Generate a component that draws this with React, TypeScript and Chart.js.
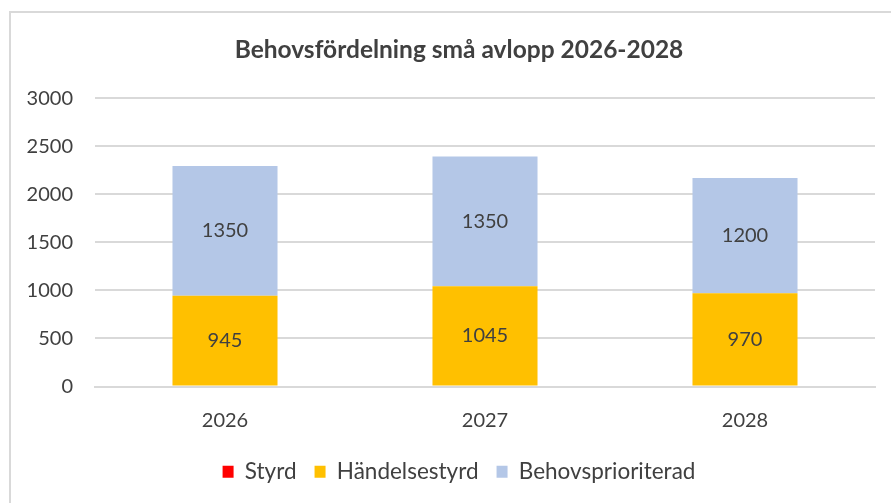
import React, { useEffect, useRef } from "react";
import { Chart, registerables } from "chart.js";

Chart.register(...registerables);

const categories = ["2026", "2027", "2028"];
const styrd = [0, 0, 0];
const handelsestyrd = [945, 1045, 970];
const behovsprioriterad = [1350, 1350, 1200];
const yTicks = [0, 500, 1000, 1500, 2000, 2500, 3000];
const titleText = "Behovsfördelning små avlopp 2026-2028";

const FONT = "Lato, 'Open Sans', sans-serif";

const labelPlugin = {
  id: "segLabels",
  afterDatasetsDraw(chart: any) {
    const ctx = chart.ctx;
    ctx.save();
    ctx.font = `20px ${FONT}`;
    ctx.fillStyle = "#404040";
    ctx.textAlign = "center";
    ctx.textBaseline = "middle";
    chart.data.datasets.forEach((ds: any, i: number) => {
      const meta = chart.getDatasetMeta(i);
      meta.data.forEach((bar: any, j: number) => {
        const v = ds.data[j];
        if (!v) return;
        const y = (bar.y + bar.base) / 2;
        ctx.fillText(String(v), bar.x, y);
      });
    });
    ctx.restore();
  },
};

export default function App() {
  const ref = useRef<HTMLCanvasElement | null>(null);
  useEffect(() => {
    if (!ref.current) return;
    const chart = new Chart(ref.current, {
      type: "bar",
      data: {
        labels: categories,
        datasets: [
          { label: "Styrd", data: styrd, backgroundColor: "#FF0000" },
          { label: "Händelsestyrd", data: handelsestyrd, backgroundColor: "#FFC000" },
          { label: "Behovsprioriterad", data: behovsprioriterad, backgroundColor: "#B4C7E7" },
        ],
      },
      options: {
        responsive: false,
        animation: false,
        layout: { padding: { left: 0, right: 0, top: 0, bottom: 10 } },
        datasets: { bar: { categoryPercentage: 1, barPercentage: 0.404 } } as any,
        plugins: {
          title: {
            display: true,
            text: titleText,
            color: "#404040",
            font: { family: FONT, size: 24.5, weight: "bold" },
            padding: { top: 35, bottom: 34 },
          },
          legend: {
            position: "bottom",
            labels: {
              color: "#404040",
              font: { family: FONT, size: 22.5 },
              boxWidth: 11,
              boxHeight: 12,
              padding: 18,
            },
          },
          tooltip: { enabled: false },
        },
        scales: {
          x: {
            stacked: true,
            grid: { display: false },
            border: { display: true, color: "#d9d9d9", width: 2 },
            ticks: { color: "#404040", font: { family: FONT, size: 20 }, padding: 14 },
            afterFit: (s: any) => { s.height = 56; },
          },
          y: {
            stacked: true,
            min: 0,
            max: 3000,
            afterBuildTicks: (s: any) => { s.ticks = yTicks.map((v) => ({ value: v })); },
            grid: { color: "#d9d9d9", lineWidth: 2, drawTicks: false },
            border: { display: false },
            ticks: {
              color: "#404040",
              font: { family: FONT, size: 20 },
              padding: 22,
              callback: (v: any) => String(v),
            },
            afterFit: (s: any) => { s.width = 95; },
          },
          yRight: {
            position: "right",
            display: true,
            min: 0,
            max: 3000,
            grid: { display: false, drawTicks: false },
            border: { display: false },
            ticks: { display: false },
            afterFit: (s: any) => { s.width = 43; },
          },
        },
      },
      plugins: [labelPlugin],
    });
    return () => chart.destroy();
  }, []);
  return (
    <div style={{ position: "absolute", left: 0, top: 0, width: 891, height: 503, overflow: "hidden", background: "#fff" }}>
      <div style={{ position: "absolute", left: 9, top: 11, width: 1000, height: 1000, border: "2px solid #d9d9d9", boxSizing: "border-box" }} />
      <canvas ref={ref} width={918} height={503} style={{ position: "absolute", left: 0, top: 0 }} />
    </div>
  );
}
